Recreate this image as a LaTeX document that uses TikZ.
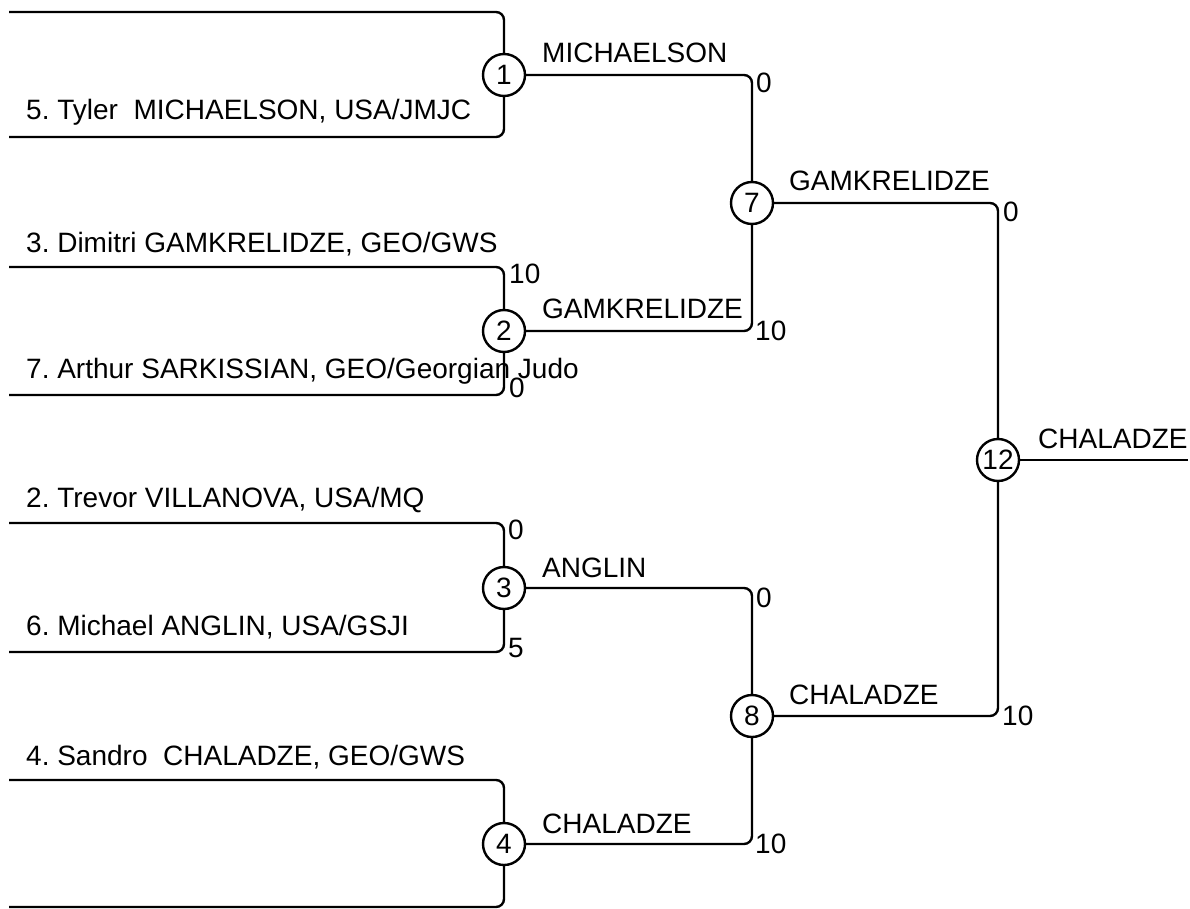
\documentclass[tikz,border=0pt]{standalone}
\usepackage{fontspec}
\setmainfont{Liberation Sans}
\frenchspacing

\begin{document}
\begin{tikzpicture}[x=1pt, y=-1pt, line width=2.4pt, font=\fontsize{28}{32}\selectfont,
    match node/.style={circle, draw, fill=white, minimum size=42pt, inner sep=0pt},
    text node/.style={anchor=base west, inner sep=0pt},
    bracket/.style={rounded corners=8pt}]
\useasboundingbox (0,0) rectangle (1190,909);

% matches
\node[match node] (m1) at (504,75) {1};
\node[match node] (m2) at (504,331) {2};
\node[match node] (m3) at (504,588) {3};
\node[match node] (m4) at (504,844) {4};
\node[match node] (m7) at (752,203) {7};
\node[match node] (m8) at (752,716) {8};
\node[match node] (m12) at (998,460) {12};

% free ends
\coordinate (t1) at (9,12);
\coordinate (b1) at (9,137);
\coordinate (t2) at (9,267);
\coordinate (b2) at (9,395);
\coordinate (t3) at (9,523);
\coordinate (b3) at (9,652);
\coordinate (t4) at (9,780);
\coordinate (b4) at (9,907);
\coordinate (win) at (1188,460);

\draw[bracket] (t1) -| (m1);
\draw[bracket] (b1) -| (m1);
\draw[bracket] (t2) -| (m2);
\draw[bracket] (b2) -| (m2);
\draw[bracket] (t3) -| (m3);
\draw[bracket] (b3) -| (m3);
\draw[bracket] (t4) -| (m4);
\draw[bracket] (b4) -| (m4);
\draw[bracket] (m1) -| (m7);
\draw[bracket] (m2) -| (m7);
\draw[bracket] (m3) -| (m8);
\draw[bracket] (m4) -| (m8);
\draw[bracket] (m7) -| (m12);
\draw[bracket] (m8) -| (m12);
\draw (m12) -- (win);

% players
\node[text node] (p5) at (25,120) {5. Tyler\ \ MICHAELSON, USA/JMJC};
\node[text node] (p3) at (25,252) {3. Dimitri GAMKRELIDZE, GEO/GWS};
\node[text node] (p7) at (25,378) {7. Arthur SARKISSIAN, GEO/Georgian Judo};
\node[text node] (p2) at (25,507) {2. Trevor VILLANOVA, USA/MQ};
\node[text node] (p6) at (25,635) {6. Michael ANGLIN, USA/GSJI};
\node[text node] (p4) at (25,765) {4. Sandro\ \ CHALADZE, GEO/GWS};

% winners
\node[text node] (w1) at (541,63) {MICHAELSON};
\node[text node] (w2) at (541,318) {GAMKRELIDZE};
\node[text node] (w3) at (541,577) {ANGLIN};
\node[text node] (w4) at (541,833) {CHALADZE};
\node[text node] (w7) at (788,191) {GAMKRELIDZE};
\node[text node] (w8) at (788,704) {CHALADZE};
\node[text node] (w12) at (1037,448) {CHALADZE};

% scores
\node[text node] (s2t) at (508,283) {10};
\node[text node] (s2b) at (508,397) {0};
\node[text node] (s3t) at (507,539) {0};
\node[text node] (s3b) at (507,657) {5};
\node[text node] (s7t) at (755,93) {0};
\node[text node] (s7b) at (754,340) {10};
\node[text node] (s8t) at (755,607) {0};
\node[text node] (s8b) at (754,853) {10};
\node[text node] (s12t) at (1002,222) {0};
\node[text node] (s12b) at (1001,725) {10};
\end{tikzpicture}
\end{document}
